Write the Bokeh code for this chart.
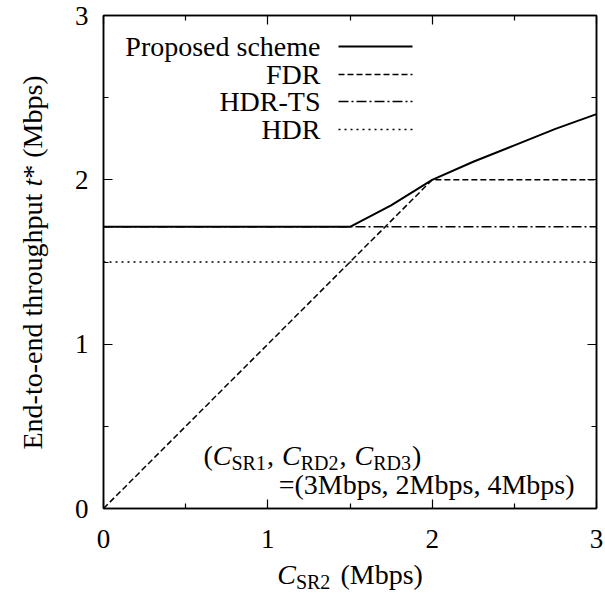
import math
from bokeh.plotting import figure
from bokeh.models import Range1d, FixedTicker, LinearAxis, Label
from bokeh.layouts import row, column
from bokeh.embed import file_html
from bokeh.resources import INLINE

# ---- data ----
x_proposed = [0.0, 1.5, 1.75, 2.0, 2.25, 2.5, 2.75, 3.0]
y_proposed = [1.714, 1.714, 1.845, 2.0, 2.11, 2.21, 2.31, 2.4]
x_fdr = [0.0, 2.0, 3.0]
y_fdr = [0.0, 2.0, 2.0]
x_hdrts = [0.0, 3.0]
y_hdrts = [1.714, 1.714]
x_hdr = [0.0, 3.0]
y_hdr = [1.5, 1.5]
tick_values = [0, 1, 2, 3]
minor_tick_values = [0.5, 1.5, 2.5]
series_names = ["Proposed scheme", "FDR", "HDR-TS", "HDR"]
series_dash = ["solid", "6 3", "10 3 2 3", "2 4"]
series_width = [2.0, 1.5, 1.5, 1.5]

FONT = "Liberation Serif"
FS = "28px"
FS_SUB = "20px"

# layout (picture pixels)
TOTAL_W, TOTAL_H = 605, 597
YDIV_W = 55
P_W, P_H = TOTAL_W - YDIV_W, 560
XDIV_H = TOTAL_H - P_H
FRAME_L, FRAME_R, FRAME_T, FRAME_B = 103, 596, 15, 508

# picture pixel -> data helpers for annotation placement
SX = (FRAME_R - FRAME_L) / 3.0
SY = (FRAME_B - FRAME_T) / 3.0


def dx(px):
    return (px - FRAME_L) / SX


def dy(py):
    return (FRAME_B - py) / SY


p = figure(width=P_W, height=P_H, x_range=Range1d(0, 3), y_range=Range1d(0, 3),
           output_backend="svg", toolbar_location=None, title=None,
           min_border_left=FRAME_L - YDIV_W, min_border_right=YDIV_W + P_W - FRAME_R,
           min_border_top=FRAME_T, min_border_bottom=P_H - FRAME_B)
p.grid.visible = False
p.outline_line_color = "black"
p.outline_line_width = 1.5
p.background_fill_color = "white"
p.border_fill_color = "white"


def style_axis(ax, show_labels=True):
    ax.ticker = FixedTicker(ticks=tick_values, minor_ticks=minor_tick_values)
    ax.major_tick_in = 9
    ax.major_tick_out = 0
    ax.minor_tick_in = 5
    ax.minor_tick_out = 0
    ax.axis_line_color = "black"
    ax.axis_line_width = 1.5
    ax.major_tick_line_color = "black"
    ax.major_tick_line_width = 1.2
    ax.minor_tick_line_color = "black"
    ax.minor_tick_line_width = 1.2
    ax.major_label_text_font = FONT
    if show_labels:
        ax.major_label_text_font_size = "27px"
        ax.major_label_text_color = "black"
    else:
        ax.major_label_text_font_size = "1px"
        ax.major_label_text_color = None
        ax.major_label_standoff = 0


style_axis(p.xaxis[0])
style_axis(p.yaxis[0])
p.xaxis[0].major_label_standoff = 21
p.yaxis[0].major_label_standoff = 15

top_ax = LinearAxis()
right_ax = LinearAxis()
style_axis(top_ax, False)
style_axis(right_ax, False)
p.add_layout(top_ax, "above")
p.add_layout(right_ax, "right")

# ---- series ----
p.line(x_hdr, y_hdr, line_color="black", line_width=series_width[3], line_dash=series_dash[3])
p.line(x_hdrts, y_hdrts, line_color="black", line_width=series_width[2], line_dash=series_dash[2])
p.line(x_fdr, y_fdr, line_color="black", line_width=series_width[1], line_dash=series_dash[1])
p.line(x_proposed, y_proposed, line_color="black", line_width=series_width[0], line_dash=series_dash[0])

# ---- legend (text right-aligned, sample to the right) ----
legend_rows_py = [46, 74, 101, 129]
for name, dash, w, py in zip(series_names, series_dash, series_width, legend_rows_py):
    p.add_layout(Label(x=dx(320), y=dy(py), text=name, text_font=FONT, text_font_size=FS,
                       text_align="right", text_baseline="middle", text_color="black"))
    p.segment(x0=[dx(338)], y0=[dy(py)], x1=[dx(412)], y1=[dy(py)],
              line_color="black", line_width=w, line_dash=dash)


def piece(fig, x, y, text, size=FS, style="normal", align="left", angle=0.0):
    fig.add_layout(Label(x=x, y=y, text=text, text_font=FONT, text_font_size=size,
                         text_font_style=style, text_align=align, text_baseline="alphabetic",
                         angle=angle, text_color="black"))


# ---- annotation inside the plot ----
a0, ab, asb = 203.0, 455.0, 462.0
ann_pieces = [
    (0.0, ab, "(", FS, "normal"),
    (9.3, ab, "C", FS, "italic"),
    (28.0, asb, "SR1", FS_SUB, "normal"),
    (63.5, ab, ",", FS, "normal"),
    (78.5, ab, "C", FS, "italic"),
    (97.2, asb, "RD2", FS_SUB, "normal"),
    (136.0, ab, ",", FS, "normal"),
    (151.0, ab, "C", FS, "italic"),
    (169.7, asb, "RD3", FS_SUB, "normal"),
    (208.5, ab, ")", FS, "normal"),
]
for off, by, t, sz, st in ann_pieces:
    piece(p, dx(a0 + off), dy(by), t, size=sz, style=st)
piece(p, dx(574.0), dy(484.0), "=(3Mbps, 2Mbps, 4Mbps)", align="right")


# ---- axis titles: separate small svg figures whose data space = picture pixels ----
def blank_fig(w, h, x0, x1, y0, y1):
    f = figure(width=w, height=h, x_range=Range1d(x0, x1), y_range=Range1d(y1, y0),
               output_backend="svg", toolbar_location=None, title=None,
               x_axis_type=None, y_axis_type=None,
               min_border=0, min_border_left=0, min_border_right=0,
               min_border_top=0, min_border_bottom=0)
    f.grid.visible = False
    f.outline_line_color = None
    f.background_fill_color = "white"
    f.border_fill_color = "white"
    return f


ylab = blank_fig(YDIV_W, TOTAL_H, 0, YDIV_W, 0, TOTAL_H)
yb, xb = 449.0, 32.0
up = math.pi / 2
piece(ylab, xb, yb, "End-to-end throughput", angle=up)
piece(ylab, xb, yb - 262.9, "t", style="italic", angle=up)
piece(ylab, xb, yb - 270.7, "*", angle=up)
piece(ylab, xb, yb - 291.7, "(Mbps)", angle=up)

# in the column its frame is aligned with the main frame horizontally
xlab = blank_fig(P_W, XDIV_H, FRAME_L, FRAME_R, P_H, TOTAL_H)
piece(xlab, 276.7, 574.0, "C", style="italic")
piece(xlab, 295.4, 581.0, "SR2", size=FS_SUB)
piece(xlab, 340.0, 574.0, "(Mbps)")

layout = row(ylab, column(p, xlab, spacing=0), spacing=0)

open("out.html", "w").write(file_html(layout, INLINE))
